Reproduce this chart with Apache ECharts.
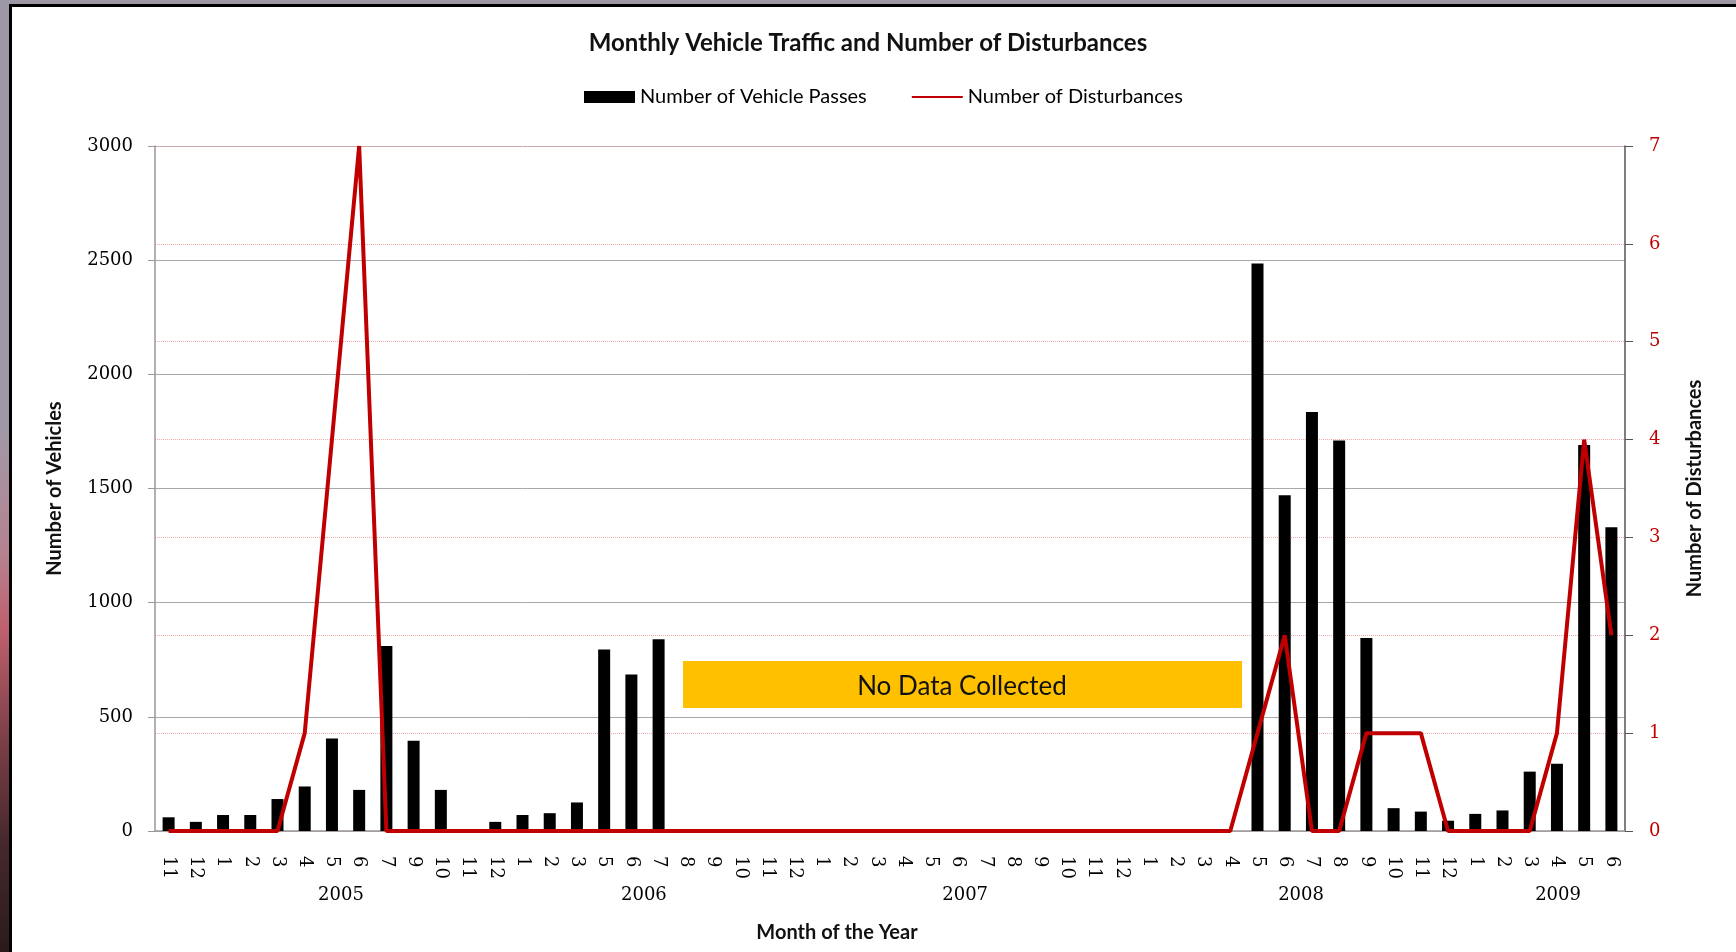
<!DOCTYPE html>
<html>
<head>
<meta charset="utf-8">
<title>Monthly Vehicle Traffic and Number of Disturbances</title>
<script src="https://cdn.jsdelivr.net/npm/echarts@6/dist/echarts.min.js"></script>
<style>
html, body {
    margin: 0;
    padding: 0;
    width: 1736px;
    height: 952px;
    overflow: hidden;
    background: linear-gradient(to bottom, #9d97a6 0%, #a198a7 45%, #b58290 58%, #c0606e 66%, #85434c 76%, #48292d 88%, #2a1a1c 100%);
}
#frame {
    position: absolute;
    left: 9px;
    top: 4px;
    right: 0;
    bottom: 0;
    background: #fff;
    border-top: 3px solid #000;
    border-left: 3px solid #000;
}
#main {
    position: absolute;
    left: 0;
    top: 0;
    width: 1736px;
    height: 952px;
}
</style>
</head>
<body>
<div id="frame"></div>
<div id="main"></div>
<script>
// month labels, Nov 2004 - Jun 2009 (Aug 2005 and Apr 2006 missing in source)
var months = [
    '11', '12', '1', '2', '3', '4', '5', '6', '7', '9', '10', '11', '12',
    '1', '2', '3', '5', '6', '7', '8', '9', '10', '11', '12',
    '1', '2', '3', '4', '5', '6', '7', '8', '9', '10', '11', '12',
    '1', '2', '3', '4', '5', '6', '7', '8', '9', '10', '11', '12',
    '1', '2', '3', '4', '5', '6'
];
var vehiclePasses = [
    60, 40, 70, 70, 140, 195, 405, 180, 810, 395, 180, 0, 40,
    70, 78, 125, 795, 685, 840, null, null, null, null, null,
    null, null, null, null, null, null, null, null, null, null, null, null,
    null, null, null, null, 2485, 1470, 1835, 1710, 845, 100, 85, 45,
    75, 90, 260, 295, 1690, 1330
];
var disturbances = [
    0, 0, 0, 0, 0, 1, 4, 7, 0, 0, 0, 0, 0,
    0, 0, 0, 0, 0, 0, 0, 0, 0, 0, 0,
    0, 0, 0, 0, 0, 0, 0, 0, 0, 0, 0, 0,
    0, 0, 0, 0, 1, 2, 0, 0, 1, 1, 1, 0,
    0, 0, 0, 1, 4, 2
];
var years = ['2005', '2006', '2007', '2008', '2009'];
// where each year label sits, in category units along the axis
var yearCenters = [6.83, 17.96, 29.76, 42.1, 51.54];

var serif = 'DejaVu Serif';
var sans = 'Lato';

var myChart = echarts.init(document.getElementById('main'));
var option = {
    animation: false,
    title: {
        text: 'Monthly Vehicle Traffic and Number of Disturbances',
        left: 'center',
        top: 26,
        textStyle: {
            fontFamily: sans,
            fontSize: 24,
            fontWeight: 'bold',
            color: '#111'
        }
    },
    legend: {
        left: 579,
        top: 82,
        itemWidth: 51,
        itemHeight: 12,
        itemGap: 44,
        textStyle: {
            fontFamily: sans,
            fontSize: 20,
            color: '#000'
        },
        data: [
            { name: 'Number of Vehicle Passes', icon: 'rect' },
            { name: 'Number of Disturbances', itemStyle: { opacity: 0, borderWidth: 0 } }
        ]
    },
    grid: {
        left: 155,
        right: 111,
        top: 146,
        bottom: 121
    },
    xAxis: [
        {
            type: 'category',
            data: months,
            axisLine: { lineStyle: { color: '#999', width: 1.5 } },
            axisTick: { length: 7, lineStyle: { color: '#999' } },
            axisLabel: {
                interval: 0,
                rotate: -90,
                margin: 25,
                fontFamily: serif,
                fontSize: 18,
                color: '#000'
            }
        },
        {
            type: 'value',
            position: 'bottom',
            min: 0,
            max: months.length,
            axisLine: { show: false },
            axisTick: { show: false },
            splitLine: { show: false },
            axisLabel: {
                customValues: yearCenters,
                margin: 55,
                fontFamily: serif,
                fontSize: 18,
                color: '#000',
                formatter: function (v) {
                    return years[yearCenters.indexOf(v)] || '';
                }
            }
        }
    ],
    yAxis: [
        {
            type: 'value',
            min: 0,
            max: 3000,
            interval: 500,
            name: 'Number of Vehicles',
            nameLocation: 'middle',
            nameRotate: 90,
            nameGap: 90,
            nameTextStyle: {
                fontFamily: sans,
                fontSize: 20,
                fontWeight: 'bold',
                color: '#111'
            },
            axisLine: { show: true, lineStyle: { color: '#999', width: 1.5 } },
            axisTick: { show: true, length: 7, lineStyle: { color: '#999' } },
            axisLabel: {
                margin: 22,
                fontFamily: serif,
                fontSize: 18,
                color: '#000',
                formatter: function (v) { return String(v); }
            },
            splitLine: { lineStyle: { color: '#a8a8a8', width: 1 } }
        },
        {
            type: 'value',
            min: 0,
            max: 7,
            interval: 1,
            position: 'right',
            name: 'Number of Disturbances',
            nameLocation: 'middle',
            nameRotate: 90,
            nameGap: 60,
            nameTextStyle: {
                fontFamily: sans,
                fontSize: 20,
                fontWeight: 'bold',
                color: '#111'
            },
            axisLine: { show: true, lineStyle: { color: '#555', width: 1.5 } },
            axisTick: { show: true, length: 8, lineStyle: { color: '#555' } },
            axisLabel: {
                margin: 24,
                fontFamily: serif,
                fontSize: 18,
                color: '#C00000'
            },
            splitLine: { show: true, lineStyle: { color: '#f2a9a9', type: 'dotted', width: 1 } }
        }
    ],
    graphic: [
        {
            type: 'rect',
            shape: { x: 683, y: 661, width: 559, height: 47 },
            style: { fill: '#FFC000' },
            z: 10
        },
        {
            type: 'text',
            x: 962,
            y: 687,
            style: {
                text: 'No Data Collected',
                font: '26px Lato',
                fill: '#111',
                align: 'center',
                verticalAlign: 'middle',
                textAlign: 'center',
                textVerticalAlign: 'middle'
            },
            z: 11
        },
        {
            type: 'text',
            x: 837,
            y: 933,
            style: {
                text: 'Month of the Year',
                font: 'bold 20px Lato',
                fill: '#111',
                align: 'center',
                verticalAlign: 'middle',
                textAlign: 'center',
                textVerticalAlign: 'middle'
            }
        }
    ],
    series: [
        {
            name: 'Number of Vehicle Passes',
            type: 'bar',
            data: vehiclePasses,
            barWidth: 12,
            itemStyle: { color: '#000' }
        },
        {
            name: 'Number of Disturbances',
            type: 'line',
            yAxisIndex: 1,
            data: disturbances,
            symbol: 'none',
            lineStyle: { color: '#C00000', width: 4 },
            itemStyle: { color: '#C00000' },
            z: 5
        }
    ]
};
myChart.setOption(option);
</script>
</body>
</html>
